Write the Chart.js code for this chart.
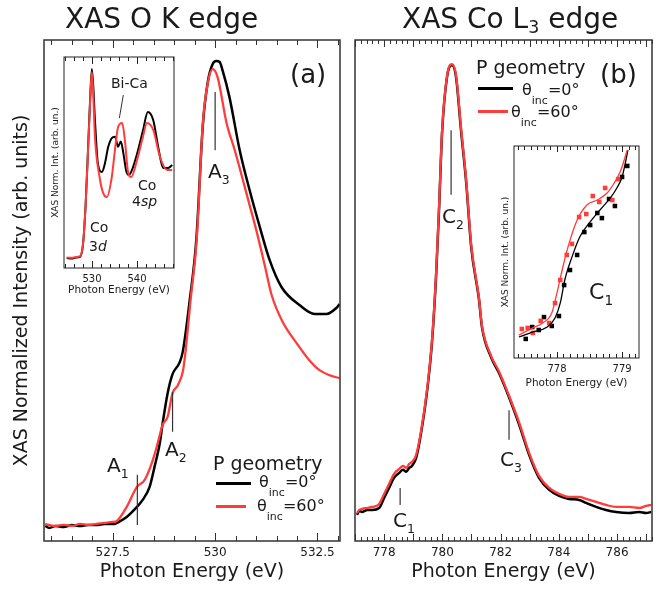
<!DOCTYPE html>
<html>
<head>
<meta charset="utf-8">
<script src="https://cdn.jsdelivr.net/npm/chart.js@4.4.0/dist/chart.umd.min.js"></script>
<style>
  html, body { margin: 0; padding: 0; background: #fff; }
  #wrap { position: relative; width: 659px; height: 589px; overflow: hidden;
          font-family: "DejaVu Sans", sans-serif; color: #1a1a1a; }
  #wrap canvas { position: absolute; left: 0; top: 0; }
  .t { position: absolute; white-space: nowrap; line-height: 1; }
  .t sub { font-size: 0.62em; vertical-align: -0.45em; line-height: 0; }
  .t .inc { font-size: 11px; vertical-align: -9px; line-height: 0; }
  .sw { position: absolute; height: 3px; }
</style>
</head>
<body>
<div id="wrap">
  <canvas id="cA" width="659" height="589"></canvas>
  <canvas id="cB" width="659" height="589"></canvas>
  <canvas id="cIA" width="659" height="589"></canvas>
  <canvas id="cIB" width="659" height="589"></canvas>
</div>
<script>
// ---- (a) XAS O K edge, main panel ----
const oE_0  = [525.85, 525.95, 526.1, 526.3, 526.5, 526.7, 526.9, 527.1, 527.3, 527.55, 527.6, 527.84, 528.09, 528.23, 528.4, 528.52, 528.65, 528.72, 528.84, 528.96, 529.13, 529.21, 529.38, 529.54, 529.7, 529.82, 529.94, 530.03, 530.11, 530.18, 530.35, 530.6, 530.84, 531.09, 531.33, 531.62, 532.06, 532.43, 532.72, 532.96, 533.04];
const oI_0  = [0.030, 0.026, 0.030, 0.028, 0.032, 0.030, 0.032, 0.032, 0.034, 0.034, 0.036, 0.048, 0.068, 0.082, 0.108, 0.148, 0.196, 0.236, 0.295, 0.333, 0.356, 0.378, 0.481, 0.601, 0.830, 0.916, 0.952, 0.958, 0.956, 0.940, 0.886, 0.780, 0.701, 0.627, 0.561, 0.507, 0.471, 0.453, 0.453, 0.465, 0.473];
const oE_60 = [525.85, 525.95, 526.1, 526.3, 526.5, 526.7, 526.9, 527.1, 527.3, 527.5, 527.6, 527.84, 528.09, 528.28, 528.48, 528.6, 528.72, 528.84, 528.96, 529.09, 529.21, 529.26, 529.4, 529.55, 529.7, 529.82, 529.94, 530.06, 530.28, 530.48, 530.67, 530.84, 531.01, 531.21, 531.38, 531.65, 531.99, 532.3, 532.55, 532.79, 533.04];
const oI_60 = [0.034, 0.032, 0.030, 0.032, 0.030, 0.034, 0.032, 0.034, 0.036, 0.038, 0.040, 0.068, 0.108, 0.122, 0.162, 0.196, 0.232, 0.248, 0.295, 0.311, 0.338, 0.366, 0.481, 0.601, 0.834, 0.914, 0.942, 0.926, 0.834, 0.780, 0.723, 0.671, 0.619, 0.551, 0.491, 0.437, 0.395, 0.361, 0.341, 0.331, 0.325];
const oMarkE  = [528.1, 528.96, 530.0];   // A1, A2, A3
const oMarkLo = [0.032, 0.218, 0.780];
const oMarkHi = [0.132, 0.297, 0.896];
const oTickLabels = [527.5, 530, 532.5];

// ---- (a) inset, wide O K range ----
const oInsE_0  = [524.4, 525.5, 526.5, 527.3, 528.0, 528.6, 529.2, 529.7, 530.0, 530.7, 531.3, 532.2, 532.9, 533.6, 534.4, 535.1, 535.8, 536.4, 537.0, 537.6, 538.2, 538.8, 540.0, 541.3, 542.4, 543.6, 544.7, 545.8, 546.9, 547.8];
const oInsI_0  = [0.047, 0.045, 0.050, 0.052, 0.110, 0.300, 0.600, 0.850, 0.943, 0.687, 0.498, 0.455, 0.498, 0.573, 0.616, 0.622, 0.575, 0.600, 0.540, 0.460, 0.441, 0.460, 0.540, 0.650, 0.739, 0.700, 0.573, 0.474, 0.474, 0.488];
const oInsE_60 = [524.4, 525.5, 526.5, 527.3, 528.0, 528.6, 529.2, 529.7, 530.0, 530.7, 531.8, 532.5, 533.3, 534.4, 535.1, 535.8, 536.7, 537.3, 538.0, 538.7, 540.0, 541.3, 542.2, 543.6, 545.1, 546.7, 547.8];
const oInsI_60 = [0.050, 0.048, 0.052, 0.055, 0.110, 0.300, 0.590, 0.840, 0.929, 0.607, 0.417, 0.355, 0.336, 0.431, 0.559, 0.668, 0.687, 0.607, 0.455, 0.431, 0.512, 0.621, 0.687, 0.654, 0.526, 0.464, 0.464];
const bicaE = [536.96, 536.07];
const bicaI = [0.820, 0.710];
const oInsTickLabels = [530, 540];

// ---- (b) XAS Co L3 edge ----
const coE_0  = [777.07, 777.15, 777.24, 777.42, 777.59, 777.83, 778.0, 778.17, 778.34, 778.52, 778.65, 778.76, 778.86, 778.96, 779.1, 779.27, 779.48, 779.65, 779.79, 779.89, 779.99, 780.16, 780.33, 780.47, 780.64, 780.82, 780.99, 781.26, 781.36, 781.67, 781.95, 782.29, 782.64, 782.98, 783.32, 783.67, 784.01, 784.35, 784.7, 784.94, 785.28, 785.62, 785.97, 786.41, 786.76, 787.0, 787.17];
const coI_0  = [0.052, 0.060, 0.058, 0.062, 0.062, 0.066, 0.086, 0.106, 0.126, 0.136, 0.142, 0.138, 0.146, 0.150, 0.166, 0.216, 0.301, 0.401, 0.535, 0.667, 0.814, 0.926, 0.950, 0.926, 0.820, 0.715, 0.587, 0.481, 0.427, 0.367, 0.335, 0.287, 0.232, 0.172, 0.126, 0.102, 0.090, 0.084, 0.082, 0.076, 0.068, 0.062, 0.058, 0.056, 0.058, 0.056, 0.058];
const coE_60 = coE_0;
const coI_60 = [0.056, 0.062, 0.064, 0.066, 0.068, 0.074, 0.094, 0.114, 0.134, 0.144, 0.150, 0.146, 0.154, 0.158, 0.172, 0.220, 0.305, 0.405, 0.540, 0.672, 0.818, 0.928, 0.952, 0.930, 0.826, 0.720, 0.592, 0.484, 0.430, 0.370, 0.338, 0.290, 0.236, 0.176, 0.130, 0.106, 0.094, 0.088, 0.088, 0.084, 0.078, 0.072, 0.068, 0.068, 0.066, 0.070, 0.072];
const coMarkE  = [778.55, 780.3, 782.29];  // C1, C2, C3
const coMarkLo = [0.072, 0.691, 0.202];
const coMarkHi = [0.106, 0.820, 0.261];
const coTickLabels = [778, 780, 782, 784, 786];

// ---- (b) inset, C1 pre-edge: points and fits ----
const c1PtE_0  = [777.52, 777.62, 777.72, 777.80, 777.92, 778.03, 778.11, 778.20, 778.31, 778.42, 778.51, 778.62, 778.69, 778.80, 778.89, 779.00, 779.08];
const c1PtI_0  = [0.090, 0.146, 0.132, 0.193, 0.151, 0.198, 0.344, 0.415, 0.486, 0.594, 0.627, 0.684, 0.660, 0.750, 0.717, 0.854, 0.906];
const c1PtE_60 = [777.46, 777.55, 777.63, 777.75, 777.88, 777.97, 778.05, 778.15, 778.23, 778.34, 778.45, 778.55, 778.65, 778.74, 778.85, 778.94];
const c1PtI_60 = [0.137, 0.142, 0.118, 0.175, 0.165, 0.259, 0.368, 0.486, 0.538, 0.665, 0.679, 0.764, 0.736, 0.802, 0.745, 0.844];
const c1FitE_0  = [777.415, 777.63, 777.85, 777.97, 778.05, 778.12, 778.23, 778.35, 778.51, 778.66, 778.82, 778.92, 779.0, 779.05, 779.09];
const c1FitI_0  = [0.099, 0.123, 0.146, 0.189, 0.259, 0.368, 0.476, 0.571, 0.642, 0.698, 0.755, 0.802, 0.854, 0.920, 0.981];
const c1FitE_60 = [777.415, 777.63, 777.78, 777.92, 778.0, 778.08, 778.17, 778.31, 778.46, 778.62, 778.77, 778.86, 778.97, 779.08];
const c1FitI_60 = [0.108, 0.142, 0.165, 0.212, 0.307, 0.415, 0.524, 0.651, 0.722, 0.745, 0.778, 0.816, 0.877, 0.981];
const c1TickLabels = [778, 779];

// ---- shared bits ----
const FONT = "'DejaVu Sans', sans-serif";
const BLACK = '#000000', RED = '#ff3b3b', INK = '#1a1a1a';
const pts = (xs, ys) => xs.map((x, i) => ({ x, y: ys[i] }));

function curve(xs, ys, color, w) {
  return { data: pts(xs, ys), borderColor: color, borderWidth: w, pointRadius: 0,
           showLine: true, cubicInterpolationMode: 'monotone' };
}
function markers(es, lo, hi) {
  return es.map((e, i) => ({ data: [{ x: e, y: lo[i] }, { x: e, y: hi[i] }],
    borderColor: '#333', borderWidth: 1.2, pointRadius: 0, showLine: true }));
}

// box + inward ticks on bottom and top axes
const frame = {
  id: 'frame',
  beforeDraw(chart, args, o) {
    if (!o.fill) return;
    const a = chart.chartArea, ctx = chart.ctx;
    ctx.save(); ctx.fillStyle = o.fill;
    ctx.fillRect(a.left, a.top, a.right - a.left, a.bottom - a.top); ctx.restore();
  },
  afterDatasetsDraw(chart, args, o) {
    const a = chart.chartArea, ctx = chart.ctx, x = chart.scales.x;
    ctx.save();
    ctx.strokeStyle = o.color; ctx.lineWidth = 1;
    ctx.beginPath();
    const first = Math.ceil(x.min / o.minor - 1e-6), last = Math.floor(x.max / o.minor + 1e-6);
    for (let i = first; i <= last; i++) {
      const v = i * o.minor, r = v / o.major;
      const len = Math.abs(r - Math.round(r)) < 1e-6 ? o.majorLen : o.minorLen;
      const px = Math.round(x.getPixelForValue(v)) + 0.5;
      ctx.moveTo(px, a.bottom); ctx.lineTo(px, a.bottom - len);
      ctx.moveTo(px, a.top); ctx.lineTo(px, a.top + len);
    }
    ctx.stroke();
    ctx.lineWidth = o.boxWidth;
    ctx.strokeRect(a.left, a.top, a.right - a.left, a.bottom - a.top);
    ctx.restore();
  }
};

function xAxis(min, max, labels, tickSize, tickPad, titleSize, h) {
  return {
    type: 'linear', min, max,
    afterBuildTicks: s => { s.ticks = labels.map(v => ({ value: v })); },
    ticks: { font: { family: FONT, size: tickSize }, color: INK, padding: tickPad,
             maxRotation: 0, autoSkip: false, callback: v => String(v) },
    grid: { display: false, drawTicks: false },
    border: { display: false },
    title: { display: true, text: 'Photon Energy (eV)', color: INK, padding: 0,
             font: { family: FONT, size: titleSize } },
    afterFit: s => { s.height = h; }
  };
}
function yAxis(title, size, w, max) {
  return {
    type: 'linear', min: 0, max: max || 1, display: !!title,
    ticks: { display: false },
    grid: { display: false, drawTicks: false },
    border: { display: false },
    title: { display: !!title, text: title, color: INK, padding: 0, font: { family: FONT, size } },
    afterFit: s => { s.width = w; }
  };
}
function make(id, datasets, scales, padding, fr) {
  return new Chart(document.getElementById(id), {
    type: 'scatter',
    data: { datasets },
    options: {
      responsive: false, animation: false, devicePixelRatio: 1,
      layout: { padding, autoPadding: false },
      scales,
      plugins: { legend: { display: false }, tooltip: { enabled: false }, frame: fr }
    },
    plugins: [frame]
  });
}

// panel (a)
make('cA',
  [...markers(oMarkE, oMarkLo, oMarkHi), curve(oE_60, oI_60, RED, 2.3), curve(oE_0, oI_0, BLACK, 2.5)],
  { x: xAxis(525.82, 533.05, oTickLabels, 12, 5, 19, 42.4),
    y: yAxis('XAS Normalized Intensity (arb. units)', 19, 33.4) },
  { left: 10.6, top: 40, right: 319, bottom: 5.6 },
  { minor: 0.5, major: 2.5, minorLen: 5, majorLen: 8, color: '#333', boxWidth: 1.5 });

// panel (b)
make('cB',
  [...markers(coMarkE, coMarkLo, coMarkHi), curve(coE_60, coI_60, RED, 2.3), curve(coE_0, coI_0, BLACK, 2.5)],
  { x: xAxis(777.0, 787.2, coTickLabels, 12, 5, 19, 42.4), y: yAxis('', 0, 0) },
  { left: 355, top: 40, right: 7, bottom: 5.6 },
  { minor: 0.2, major: 1, minorLen: 4, majorLen: 7, color: '#333', boxWidth: 1.5 });

// inset (a)
make('cIA',
  [{ data: pts(bicaE, bicaI), borderColor: '#333', borderWidth: 1, pointRadius: 0, showLine: true },
   curve(oInsE_60, oInsI_60, RED, 2), curve(oInsE_0, oInsI_0, BLACK, 2)],
  { x: xAxis(523.8, 548.2, oInsTickLabels, 10, 5, 10.5, 28.3),
    y: yAxis('XAS Norm. Int. (arb. un.)', 9, 13.4) },
  { left: 50.6, top: 57, right: 485, bottom: 292.7 },
  { minor: 2, major: 10, minorLen: 4, majorLen: 7, color: '#222', boxWidth: 1, fill: '#fff' });

// inset (b)
const sq = (xs, ys, color) => ({ data: pts(xs, ys), backgroundColor: color, borderColor: color,
  borderWidth: 0, pointStyle: 'rect', pointRadius: 3.2, showLine: false });
make('cIB',
  [curve(c1FitE_60, c1FitI_60, RED, 1.3), curve(c1FitE_0, c1FitI_0, BLACK, 1.3),
   sq(c1PtE_60, c1PtI_60, RED), sq(c1PtE_0, c1PtI_0, BLACK)],
  { x: xAxis(777.34, 779.26, c1TickLabels, 10, 5, 10.5, 31.3),
    y: yAxis('XAS Norm. Int. (arb. un.)', 9, 13.4) },
  { left: 500.6, top: 146, right: 20, bottom: 199.7 },
  { minor: 0.1, major: 1, minorLen: 4, majorLen: 6, color: '#222', boxWidth: 1, fill: '#fff' });

// ---- text overlays ----
const wrap = document.getElementById('wrap');
function txt(html, left, top, size) {
  const d = document.createElement('div');
  d.className = 't'; d.innerHTML = html;
  d.style.cssText += `left:${left}px;top:${top}px;font-size:${size}px;`;
  wrap.appendChild(d);
}
function swatch(left, top, width, color) {
  const d = document.createElement('div');
  d.className = 'sw';
  d.style.cssText += `left:${left}px;top:${top}px;width:${width}px;background:${color};`;
  wrap.appendChild(d);
}

txt('XAS O K edge', 65, 5, 28);
txt('XAS Co L<sub style="vertical-align:-0.3em">3</sub> edge', 402, 5, 28);
txt('(a)', 290, 61, 26);
txt('(b)', 600, 61, 26);

txt('A<sub>1</sub>', 107, 455, 20);
txt('A<sub>2</sub>', 165, 439, 20);
txt('A<sub>3</sub>', 208, 161, 20);
txt('C<sub>1</sub>', 393, 510, 20);
txt('C<sub>2</sub>', 442, 206, 20);
txt('C<sub>3</sub>', 500, 449, 20);
txt('C<sub>1</sub>', 589, 281, 22);

txt('Bi-Ca', 111, 76, 14);
txt('Co', 138, 178, 14);
txt('4<i>sp</i>', 132, 194, 14);
txt('Co', 90, 220, 14);
txt('3<i>d</i>', 89, 239, 14);

// legend (a)
txt('P geometry', 213, 454, 19);
swatch(216, 482, 35, BLACK);
txt('θ<span class="inc">inc</span>=0°', 259, 474, 16);
swatch(216, 505, 30, RED);
txt('θ<span class="inc">inc</span>=60°', 257, 498, 16);

// legend (b)
txt('P geometry', 476, 58, 19);
swatch(478, 87, 35, BLACK);
txt('θ<span class="inc">inc</span>=0°', 522, 82, 16);
swatch(478, 110, 30, RED);
txt('θ<span class="inc">inc</span>=60°', 511, 104, 16);
</script>
</body>
</html>
